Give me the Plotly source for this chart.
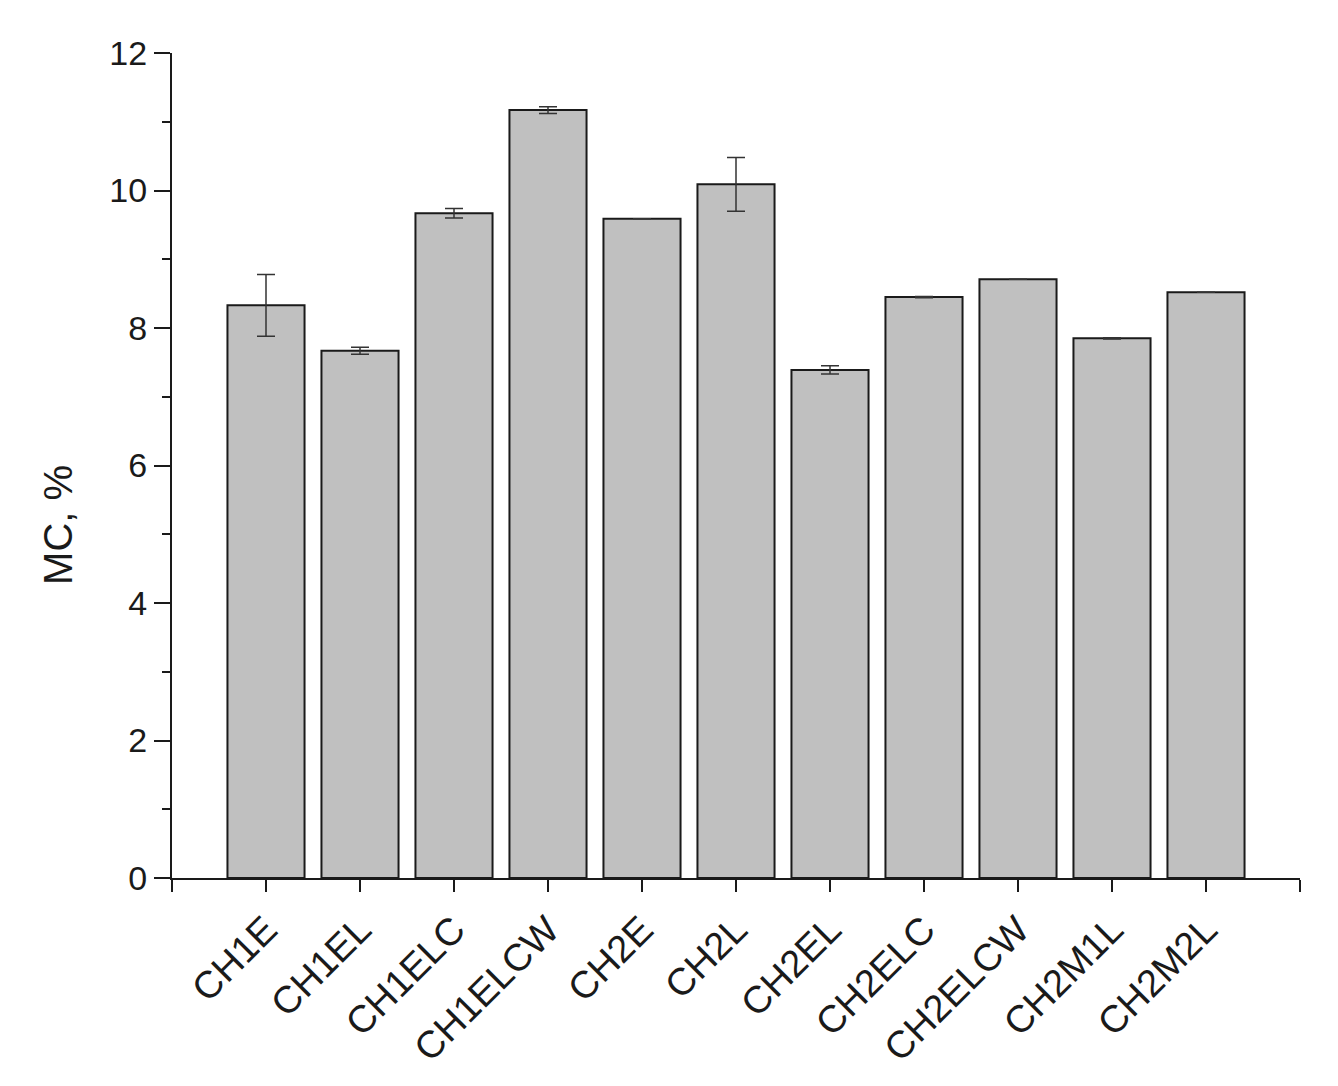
import plotly.graph_objects as go

categories = ["CH1E", "CH1EL", "CH1ELC", "CH1ELCW", "CH2E", "CH2L",
              "CH2EL", "CH2ELC", "CH2ELCW", "CH2M1L", "CH2M2L"]
mc_values = [8.33, 7.67, 9.67, 11.17, 9.59, 10.09, 7.39, 8.45, 8.71, 7.85, 8.52]
mc_errors = [0.45, 0.05, 0.07, 0.05, 0.0, 0.39, 0.06, 0.01, 0.0, 0.01, 0.0]
y_ticks = [0, 2, 4, 6, 8, 10, 12]

xpos = list(range(len(categories)))

fig = go.Figure()
fig.add_trace(go.Bar(
    x=xpos, y=mc_values,
    width=0.82,
    marker=dict(color="#c0c0c0", line=dict(color="#1a1a1a", width=2)),
    error_y=dict(type="data", array=mc_errors, visible=True,
                 color="#333333", thickness=1.5, width=9),
    showlegend=False,
))

font_family = "Liberation Sans, Arial, sans-serif"

fig.update_layout(
    width=1338, height=1086,
    paper_bgcolor="white", plot_bgcolor="white",
    margin=dict(l=164, r=46, t=45, b=216),
    font=dict(family=font_family, size=34, color="#1a1a1a"),
    xaxis=dict(
        range=[-1, len(categories)],
        tickmode="array",
        tickvals=[-1] + xpos + [len(categories)],
        ticktext=[""] + categories + [""],
        tickangle=-45,
        ticks="outside", ticklen=12, tickwidth=2, tickcolor="#1a1a1a",
        showline=True, linecolor="#1a1a1a", linewidth=2,
        showgrid=False, zeroline=False,
        tickfont=dict(size=38),
    ),
    yaxis=dict(
        range=[0, 12],
        tickmode="array", tickvals=y_ticks,
        ticks="outside", ticklen=16, tickwidth=2, tickcolor="#1a1a1a",
        minor=dict(tickmode="array", tickvals=[1, 3, 5, 7, 9, 11],
                   ticks="outside", ticklen=8, tickwidth=2, tickcolor="#1a1a1a"),
        showline=True, linecolor="#1a1a1a", linewidth=2,
        showgrid=False, zeroline=False,
        tickfont=dict(size=34),
    ),
    annotations=[dict(
        text="MC, %", textangle=-90,
        xref="paper", yref="paper", x=0, y=0.428,
        xanchor="center", yanchor="middle", xshift=-114,
        showarrow=False, font=dict(size=40),
    )],
)

fig.write_html("out.html")
